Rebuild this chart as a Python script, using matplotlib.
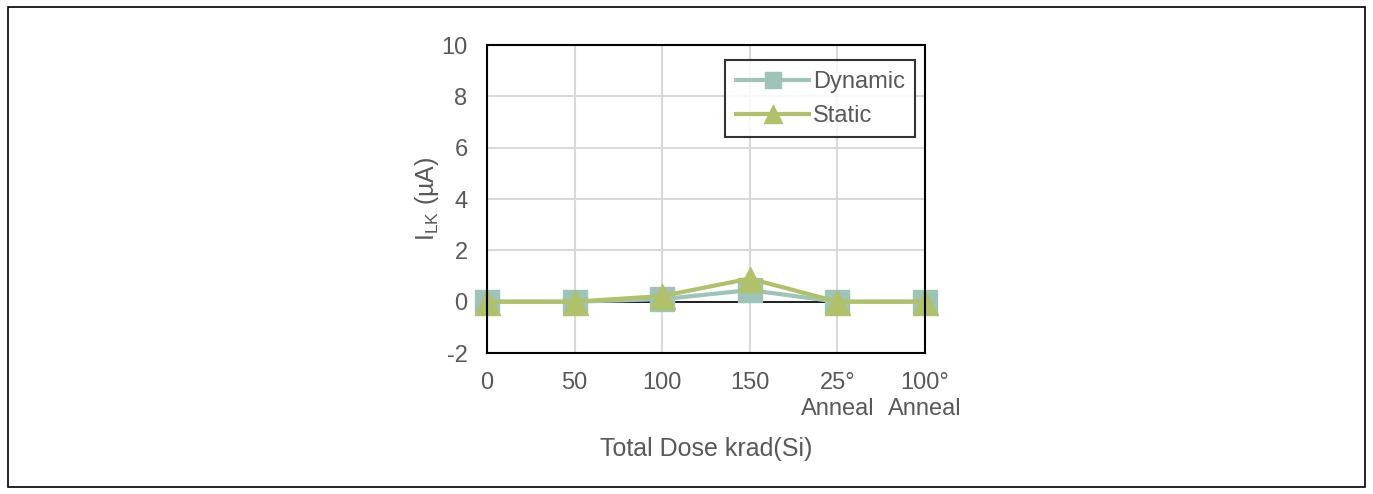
import matplotlib.pyplot as plt
import numpy as np

categories = ['0', '50', '100', '150', '25°\nAnneal', '100°\nAnneal']
dynamic = [0.0, 0.0, 0.1, 0.45, 0.0, 0.0]
static = [0.0, 0.0, 0.22, 0.9, 0.0, 0.0]

plt.rcParams['font.family'] = ['Liberation Sans', 'DejaVu Sans']
plt.rcParams['axes.unicode_minus'] = False
txt = '#595959'

fig = plt.figure(figsize=(13.73, 4.94), dpi=100)
# outer frame
fig.patches.append(plt.Rectangle((0.006, 0.014), 0.988, 0.972, transform=fig.transFigure,
                                 fill=False, edgecolor='black', linewidth=1.2))

ax = fig.add_axes([0.3547, 0.2854, 0.319, 0.6235])
x = np.arange(len(categories))

ax.grid(True, color='#D9D9D9', linewidth=1.5)
ax.set_axisbelow(True)
ax.axhline(0, color='black', linewidth=1.2, zorder=1)

ax.plot(x, dynamic, color='#9DC4B8', marker='s', markersize=17, linewidth=3,
        label='Dynamic', zorder=3, clip_on=False)
ax.plot(x, static, color='#B0C169', marker='^', markersize=18, linewidth=3,
        label='Static', zorder=4, clip_on=False)

ax.set_xlim(0, 5)
ax.set_ylim(-2, 10)
ax.set_yticks(range(-2, 11, 2))
ax.set_xticks(x)
ax.set_xticklabels(categories)
ax.tick_params(axis='y', length=0, labelsize=17, labelcolor=txt, pad=14)
ax.tick_params(axis='x', length=0, labelsize=17, labelcolor=txt, pad=14)
for s in ax.spines.values():
    s.set_color('black')
    s.set_linewidth(1.5)
    s.set_zorder(5)

ax.set_ylabel('I$_{\\mathregular{LK}}$ (µA)', fontsize=18, color=txt, labelpad=0)
ax.set_xlabel('Total Dose krad(Si)', fontsize=18, color=txt, labelpad=12)

leg = ax.legend(loc='upper right', bbox_to_anchor=(0.978, 0.95), fontsize=17,
                frameon=True, fancybox=False, edgecolor='black', handlelength=3.1,
                handletextpad=0.15, borderpad=0.45, labelspacing=0.5, markerscale=0.7,
                borderaxespad=0)
leg.get_frame().set_linewidth(1.5)
for t in leg.get_texts():
    t.set_color(txt)

fig.savefig('out.png', dpi=100)
